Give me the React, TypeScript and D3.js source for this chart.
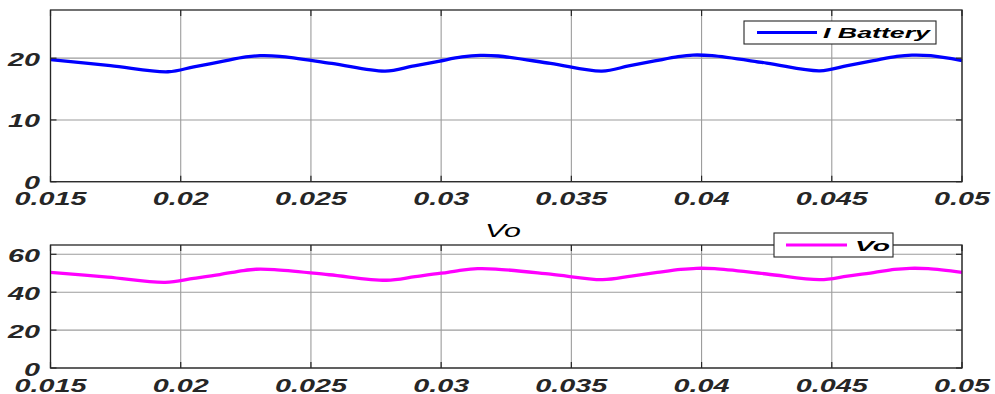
import React from "react";
import * as d3 from "d3";

const xTicks = [0.015, 0.02, 0.025, 0.03, 0.035, 0.04, 0.045, 0.05];
const xTickLabels = ["0.015", "0.02", "0.025", "0.03", "0.035", "0.04", "0.045", "0.05"];
const yTicksTop = [0, 10, 20];
const yTicksBottom = [0, 20, 40, 60];

const batteryT = [0.015, 0.0173, 0.01951, 0.0205, 0.0215, 0.0225, 0.02305, 0.0238, 0.0258, 0.02785, 0.0289, 0.0299, 0.0308, 0.0315, 0.0322, 0.0342, 0.03617, 0.0372, 0.0382, 0.0391, 0.03967, 0.0404, 0.0425, 0.04454, 0.0456, 0.0466, 0.0475, 0.04808, 0.0488, 0.05];
const batteryV = [19.75, 18.8, 17.8, 18.6, 19.4, 20.2, 20.4, 20.3, 19.15, 17.9, 18.7, 19.5, 20.2, 20.45, 20.35, 19.15, 17.9, 18.75, 19.55, 20.25, 20.5, 20.4, 19.2, 17.95, 18.8, 19.6, 20.3, 20.5, 20.4, 19.6];

const voT = [0.015, 0.0172, 0.0194, 0.0205, 0.0215, 0.0224, 0.0229, 0.0236, 0.0257, 0.0279, 0.029, 0.03, 0.0308, 0.0314, 0.0321, 0.0342, 0.0362, 0.0373, 0.0383, 0.0392, 0.0398, 0.0405, 0.0425, 0.04455, 0.0456, 0.0466, 0.0474, 0.048, 0.0487, 0.05];
const voV = [50.5, 48.0, 45.2, 47.3, 49.3, 51.4, 52.1, 51.9, 49.2, 46.3, 48.2, 50.0, 51.7, 52.4, 52.2, 49.5, 46.6, 48.5, 50.4, 52.0, 52.6, 52.4, 49.6, 46.6, 48.5, 50.3, 52.0, 52.6, 52.4, 50.5];

const FONT = "'Liberation Sans', Arial, sans-serif";
const TXT = "#262626";

type PanelProps = {
  top: number;
  bottom: number;
  yMax: number;
  yTicks: number[];
  t: number[];
  v: number[];
  color: string;
  legend: string;
  legendBox: { x: number; y: number; w: number; h: number; lx1: number; lx2: number; tx: number; tw: number };
  labelBaseline: number;
};

function Panel(p: PanelProps) {
  const x = d3.scaleLinear().domain([0.015, 0.05]).range([50.5, 962]);
  const y = d3.scaleLinear().domain([0, p.yMax]).range([p.bottom, p.top]);
  const pts: [number, number][] = p.t.map((tt, i) => [tt, p.v[i]]);
  const line = d3
    .line<[number, number]>()
    .x((d) => x(d[0]))
    .y((d) => y(d[1]))
    .curve(d3.curveCatmullRom.alpha(0.5));
  const lb = p.legendBox;
  return (
    <g>
      <rect x={50.5} y={p.top} width={962 - 50.5} height={p.bottom - p.top} fill="#fff" />
      {xTicks.map((tk, i) => (
        <line key={"gx" + i} x1={x(tk)} x2={x(tk)} y1={p.top} y2={p.bottom} stroke="#9c9c9c" strokeWidth={1.1} />
      ))}
      {p.yTicks.map((tk, i) => (
        <line key={"gy" + i} x1={50.5} x2={962} y1={y(tk)} y2={y(tk)} stroke="#9c9c9c" strokeWidth={1.1} />
      ))}
      <path d={line(pts) || ""} fill="none" stroke={p.color} strokeWidth={3.3} strokeLinejoin="round" />
      <rect x={50.5} y={p.top} width={962 - 50.5} height={p.bottom - p.top} fill="none" stroke={TXT} strokeWidth={1.3} />
      {xTicks.map((tk, i) => (
        <g key={"tx" + i}>
          <line x1={x(tk)} x2={x(tk)} y1={p.bottom} y2={p.bottom - 6} stroke={TXT} strokeWidth={1.2} />
          <line x1={x(tk)} x2={x(tk)} y1={p.top} y2={p.top + 6} stroke={TXT} strokeWidth={1.2} />
          <text
            transform={`translate(${x(tk)},${p.labelBaseline}) scale(1.6,1)`}
            textAnchor="middle"
            fontFamily={FONT}
            fontWeight="bold"
            fontStyle="italic"
            fontSize={18}
            fill={TXT}
          >
            {xTickLabels[i]}
          </text>
        </g>
      ))}
      {p.yTicks.map((tk, i) => (
        <g key={"ty" + i}>
          <line x1={50.5} x2={56.5} y1={y(tk)} y2={y(tk)} stroke={TXT} strokeWidth={1.2} />
          <line x1={962} x2={956} y1={y(tk)} y2={y(tk)} stroke={TXT} strokeWidth={1.2} />
          <text
            transform={`translate(40,${y(tk) + 7.5}) scale(1.6,1)`}
            textAnchor="end"
            fontFamily={FONT}
            fontWeight="bold"
            fontStyle="italic"
            fontSize={18}
            fill={TXT}
          >
            {tk}
          </text>
        </g>
      ))}
      <rect x={lb.x} y={lb.y} width={lb.w} height={lb.h} fill="#fff" stroke={TXT} strokeWidth={1.1} />
      <line x1={lb.lx1} x2={lb.lx2} y1={lb.y + lb.h / 2} y2={lb.y + lb.h / 2} stroke={p.color} strokeWidth={3} />
      <text
        x={lb.tx}
        y={lb.y + lb.h / 2 + 5.5}
        textLength={lb.tw}
        lengthAdjust="spacingAndGlyphs"
        fontFamily={FONT}
        fontWeight="bold"
        fontStyle="italic"
        fontSize={15.5}
        fill="#000"
      >
        {p.legend}
      </text>
    </g>
  );
}

export default function App() {
  return (
    <svg width={995} height={394} style={{ position: "absolute", left: 0, top: 0, background: "#fff" }}>
      <rect x={0} y={0} width={995} height={394} fill="#fff" />
      <Panel
        top={10}
        bottom={181.7}
        yMax={27.8}
        yTicks={yTicksTop}
        t={batteryT}
        v={batteryV}
        color="#0000ff"
        legend="I Battery"
        legendBox={{ x: 744, y: 21, w: 192, h: 23, lx1: 757, lx2: 817, tx: 823, tw: 107 }}
        labelBaseline={205}
      />
      <text
        transform="translate(503,237) scale(1.6,1)"
        textAnchor="middle"
        fontFamily={FONT}
        fontStyle="italic"
        fontSize={19}
        fill="#000"
      >
        Vo
      </text>
      <Panel
        top={245}
        bottom={368}
        yMax={64.9}
        yTicks={yTicksBottom}
        t={voT}
        v={voV}
        color="#ff00ff"
        legend="Vo"
        legendBox={{ x: 774, y: 233, w: 119, h: 24, lx1: 786, lx2: 847, tx: 855, tw: 35 }}
        labelBaseline={392}
      />
    </svg>
  );
}
